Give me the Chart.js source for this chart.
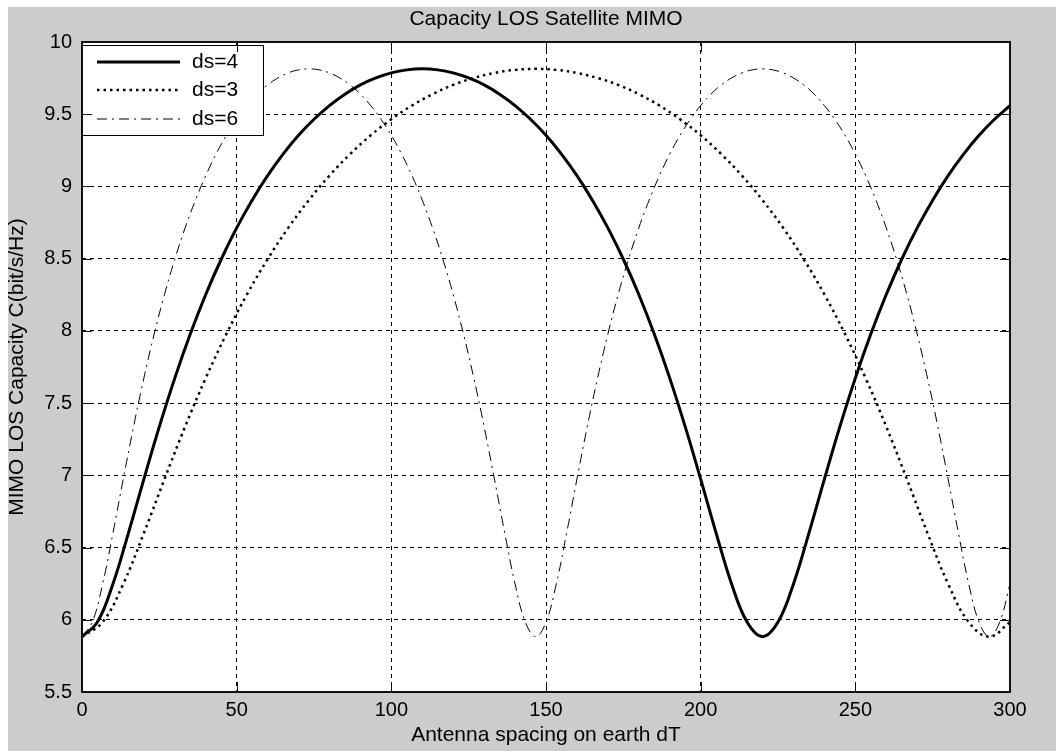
<!DOCTYPE html>
<html><head><meta charset="utf-8">
<script src="https://cdn.jsdelivr.net/npm/chart.js@4.4.1/dist/chart.umd.min.js"></script>
<style>html,body{margin:0;padding:0;background:#fff;}canvas{display:block;}</style>
</head><body>
<canvas id="c" width="1056" height="751"></canvas>
<script>
const chartTitle = 'Capacity LOS Satellite MIMO';
const xTitle = 'Antenna spacing on earth dT';
const yTitle = 'MIMO LOS Capacity C(bit/s/Hz)';
const seriesNames = ['ds=4', 'ds=3', 'ds=6'];
const xTicks = [0, 50, 100, 150, 200, 250, 300];
const yTicks = [5.5, 6, 6.5, 7, 7.5, 8, 8.5, 9, 9.5, 10];
const yTickLabels = ['5.5', '6', '6.5', '7', '7.5', '8', '8.5', '9', '9.5', '10'];

// ds=4
const dT4 = [0,5,10,15,20,25,30,35,40,45,50,55,60,65,70,75,80,85,90,95,100,105,110,115,120,125,130,135,140,145,150,155,160,165,170,175,180,185,190,195,200,205,210,215,220,225,230,235,240,245,250,255,260,265,270,275,280,285,290,295,300];
const cap4 = [5.883,5.984,6.248,6.600,6.974,7.337,7.673,7.978,8.252,8.496,8.713,8.905,9.075,9.224,9.354,9.465,9.560,9.639,9.703,9.751,9.786,9.807,9.814,
9.807,9.786,9.751,9.703,9.639,9.560,9.465,9.354,9.224,9.075,8.905,8.713,8.496,8.252,7.978,7.673,7.337,6.974,6.600,6.248,5.984,5.883,
5.984,6.248,6.600,6.974,7.337,7.673,7.978,8.252,8.496,8.713,8.905,9.075,9.224,9.354,9.465,9.560];

// ds=3
const dT3 = [0,6.67,13.33,20,26.67,33.33,40,46.67,53.33,60,66.67,73.33,80,86.67,93.33,100,106.67,113.33,120,126.67,133.33,140,146.67,153.33,160,166.67,173.33,180,186.67,193.33,200,206.67,213.33,220,226.67,233.33,240,246.67,253.33,260,266.67,273.33,280,286.67,293.33,300];
const cap3 = [5.883,5.984,6.248,6.600,6.974,7.337,7.673,7.978,8.252,8.496,8.713,8.905,9.075,9.224,9.354,9.465,9.560,9.639,9.703,9.751,9.786,9.807,9.814,
9.807,9.786,9.751,9.703,9.639,9.560,9.465,9.354,9.224,9.075,8.905,8.713,8.496,8.252,7.978,7.673,7.337,6.974,6.600,6.248,5.984,5.883,
5.984];

// ds=6
const dT6 = [0,3.33,6.67,10,13.33,16.67,20,23.33,26.67,30,33.33,36.67,40,43.33,46.67,50,53.33,56.67,60,63.33,66.67,70,73.33,76.67,80,83.33,86.67,90,93.33,96.67,100,103.33,106.67,110,113.33,116.67,120,123.33,126.67,130,133.33,136.67,140,143.33,146.67,150,153.33,156.67,160,163.33,166.67,170,173.33,176.67,180,183.33,186.67,190,193.33,196.67,200,203.33,206.67,210,213.33,216.67,220,223.33,226.67,230,233.33,236.67,240,243.33,246.67,250,253.33,256.67,260,263.33,266.67,270,273.33,276.67,280,283.33,286.67,290,293.33,296.67,300];
const cap6 = [5.883,5.984,6.248,6.600,6.974,7.337,7.673,7.978,8.252,8.496,8.713,8.905,9.075,9.224,9.354,9.465,9.560,9.639,9.703,9.751,9.786,9.807,9.814,
9.807,9.786,9.751,9.703,9.639,9.560,9.465,9.354,9.224,9.075,8.905,8.713,8.496,8.252,7.978,7.673,7.337,6.974,6.600,6.248,5.984,5.883,
5.984,6.248,6.600,6.974,7.337,7.673,7.978,8.252,8.496,8.713,8.905,9.075,9.224,9.354,9.465,9.560,9.639,9.703,9.751,9.786,9.807,9.814,
9.807,9.786,9.751,9.703,9.639,9.560,9.465,9.354,9.224,9.075,8.905,8.713,8.496,8.252,7.978,7.673,7.337,6.974,6.600,6.248,5.984,5.883,
5.984,6.248];

const FONT = '"Liberation Sans", Arial, sans-serif';
const pts = (xs, ys) => xs.map((x, i) => ({x: x, y: ys[i]}));

const styles = [
  {borderWidth: 3, borderDash: []},
  {borderWidth: 2.5, borderDash: [2.5, 4]},
  {borderWidth: 1, borderDash: [10, 5, 2, 5]}
];

const deco = {
  id: 'deco',
  beforeDraw(chart) {
    const ctx = chart.ctx, a = chart.chartArea;
    ctx.save();
    ctx.fillStyle = '#ffffff';
    ctx.fillRect(0, 0, chart.width, chart.height);
    ctx.fillStyle = '#cccccc';
    ctx.fillRect(8, 7, chart.width - 8, chart.height - 7);
    ctx.fillStyle = '#ffffff';
    ctx.fillRect(a.left, a.top, a.right - a.left, a.bottom - a.top);
    ctx.fillStyle = '#000';
    ctx.font = '21px ' + FONT;
    ctx.textAlign = 'center';
    ctx.textBaseline = 'middle';
    ctx.fillText(chartTitle, (a.left + a.right) / 2, 19);
    ctx.restore();
  },
  afterDatasetsDraw(chart) {
    const ctx = chart.ctx, a = chart.chartArea;
    ctx.save();
    const lx = a.left, ly = 45, lw = 181, lh = 90;
    ctx.fillStyle = '#fff';
    ctx.fillRect(lx, ly, lw, lh);
    ctx.strokeStyle = '#000';
    ctx.lineWidth = 1;
    ctx.setLineDash([]);
    ctx.strokeRect(lx + 0.5, ly + 0.5, lw, lh);
    const rows = [62, 90, 119];
    chart.data.datasets.forEach((ds, i) => {
      const y = rows[i];
      ctx.strokeStyle = '#000';
      ctx.lineWidth = ds.borderWidth;
      ctx.setLineDash(ds.borderDash);
      ctx.beginPath();
      ctx.moveTo(97, y);
      ctx.lineTo(180, y);
      ctx.stroke();
      ctx.setLineDash([]);
      ctx.fillStyle = '#000';
      ctx.font = '21px ' + FONT;
      ctx.textAlign = 'left';
      ctx.textBaseline = 'middle';
      ctx.fillText(ds.label, 192, y);
    });
    ctx.restore();
  },
  afterDraw(chart) {
    const ctx = chart.ctx, a = chart.chartArea;
    const sx = chart.scales.x, sy = chart.scales.y;
    ctx.save();
    ctx.strokeStyle = '#111';
    ctx.setLineDash([]);
    ctx.lineWidth = 1;
    const tl = 10;
    ctx.beginPath();
    xTicks.forEach(v => {
      const p = Math.round(sx.getPixelForValue(v)) + 0.5;
      ctx.moveTo(p, a.bottom); ctx.lineTo(p, a.bottom - tl);
      ctx.moveTo(p, a.top); ctx.lineTo(p, a.top + tl);
    });
    yTicks.forEach(v => {
      const p = Math.round(sy.getPixelForValue(v)) + 0.5;
      ctx.moveTo(a.left, p); ctx.lineTo(a.left + tl, p);
      ctx.moveTo(a.right, p); ctx.lineTo(a.right - tl, p);
    });
    ctx.stroke();
    ctx.lineWidth = 2;
    ctx.strokeRect(a.left, a.top, a.right - a.left, a.bottom - a.top);
    ctx.restore();
  }
};

Chart.defaults.color = '#000';
Chart.defaults.font.family = FONT;

new Chart(document.getElementById('c'), {
  type: 'line',
  data: {
    datasets: [
      {label: seriesNames[0], data: pts(dT4, cap4)},
      {label: seriesNames[1], data: pts(dT3, cap3)},
      {label: seriesNames[2], data: pts(dT6, cap6)}
    ].map((d, i) => Object.assign(d, {
      borderColor: '#000', backgroundColor: '#000',
      borderWidth: styles[i].borderWidth, borderDash: styles[i].borderDash,
      pointRadius: 0, fill: false, tension: 0.4
    }))
  },
  options: {
    responsive: false,
    animation: false,
    devicePixelRatio: 1,
    layout: {padding: {left: 0, top: 42, right: 46, bottom: 0}},
    plugins: {legend: {display: false}, title: {display: false}, tooltip: {enabled: false}},
    scales: {
      x: {
        type: 'linear', min: 0, max: 300,
        afterFit: s => { s.height = 59; },
        afterBuildTicks: s => { s.ticks = xTicks.map(v => ({value: v})); },
        ticks: {padding: 6, font: {size: 20}, maxRotation: 0, callback: v => String(v)},
        grid: {color: '#000', lineWidth: 1, drawTicks: false},
        border: {display: false, dash: [4, 4]},
        title: {display: true, text: xTitle, font: {size: 21}, padding: {top: 0, bottom: 3}}
      },
      y: {
        type: 'linear', min: 5.5, max: 10,
        afterFit: s => { s.width = 82; },
        afterBuildTicks: s => { s.ticks = yTicks.map(v => ({value: v})); },
        ticks: {padding: 10, font: {size: 20}, callback: v => yTickLabels[yTicks.indexOf(v)]},
        grid: {color: '#000', lineWidth: 1, drawTicks: false},
        border: {display: false, dash: [4, 4]},
        title: {display: true, text: yTitle, font: {size: 21}, padding: {top: 5, bottom: 0}}
      }
    }
  },
  plugins: [deco]
});
</script>
</body></html>
